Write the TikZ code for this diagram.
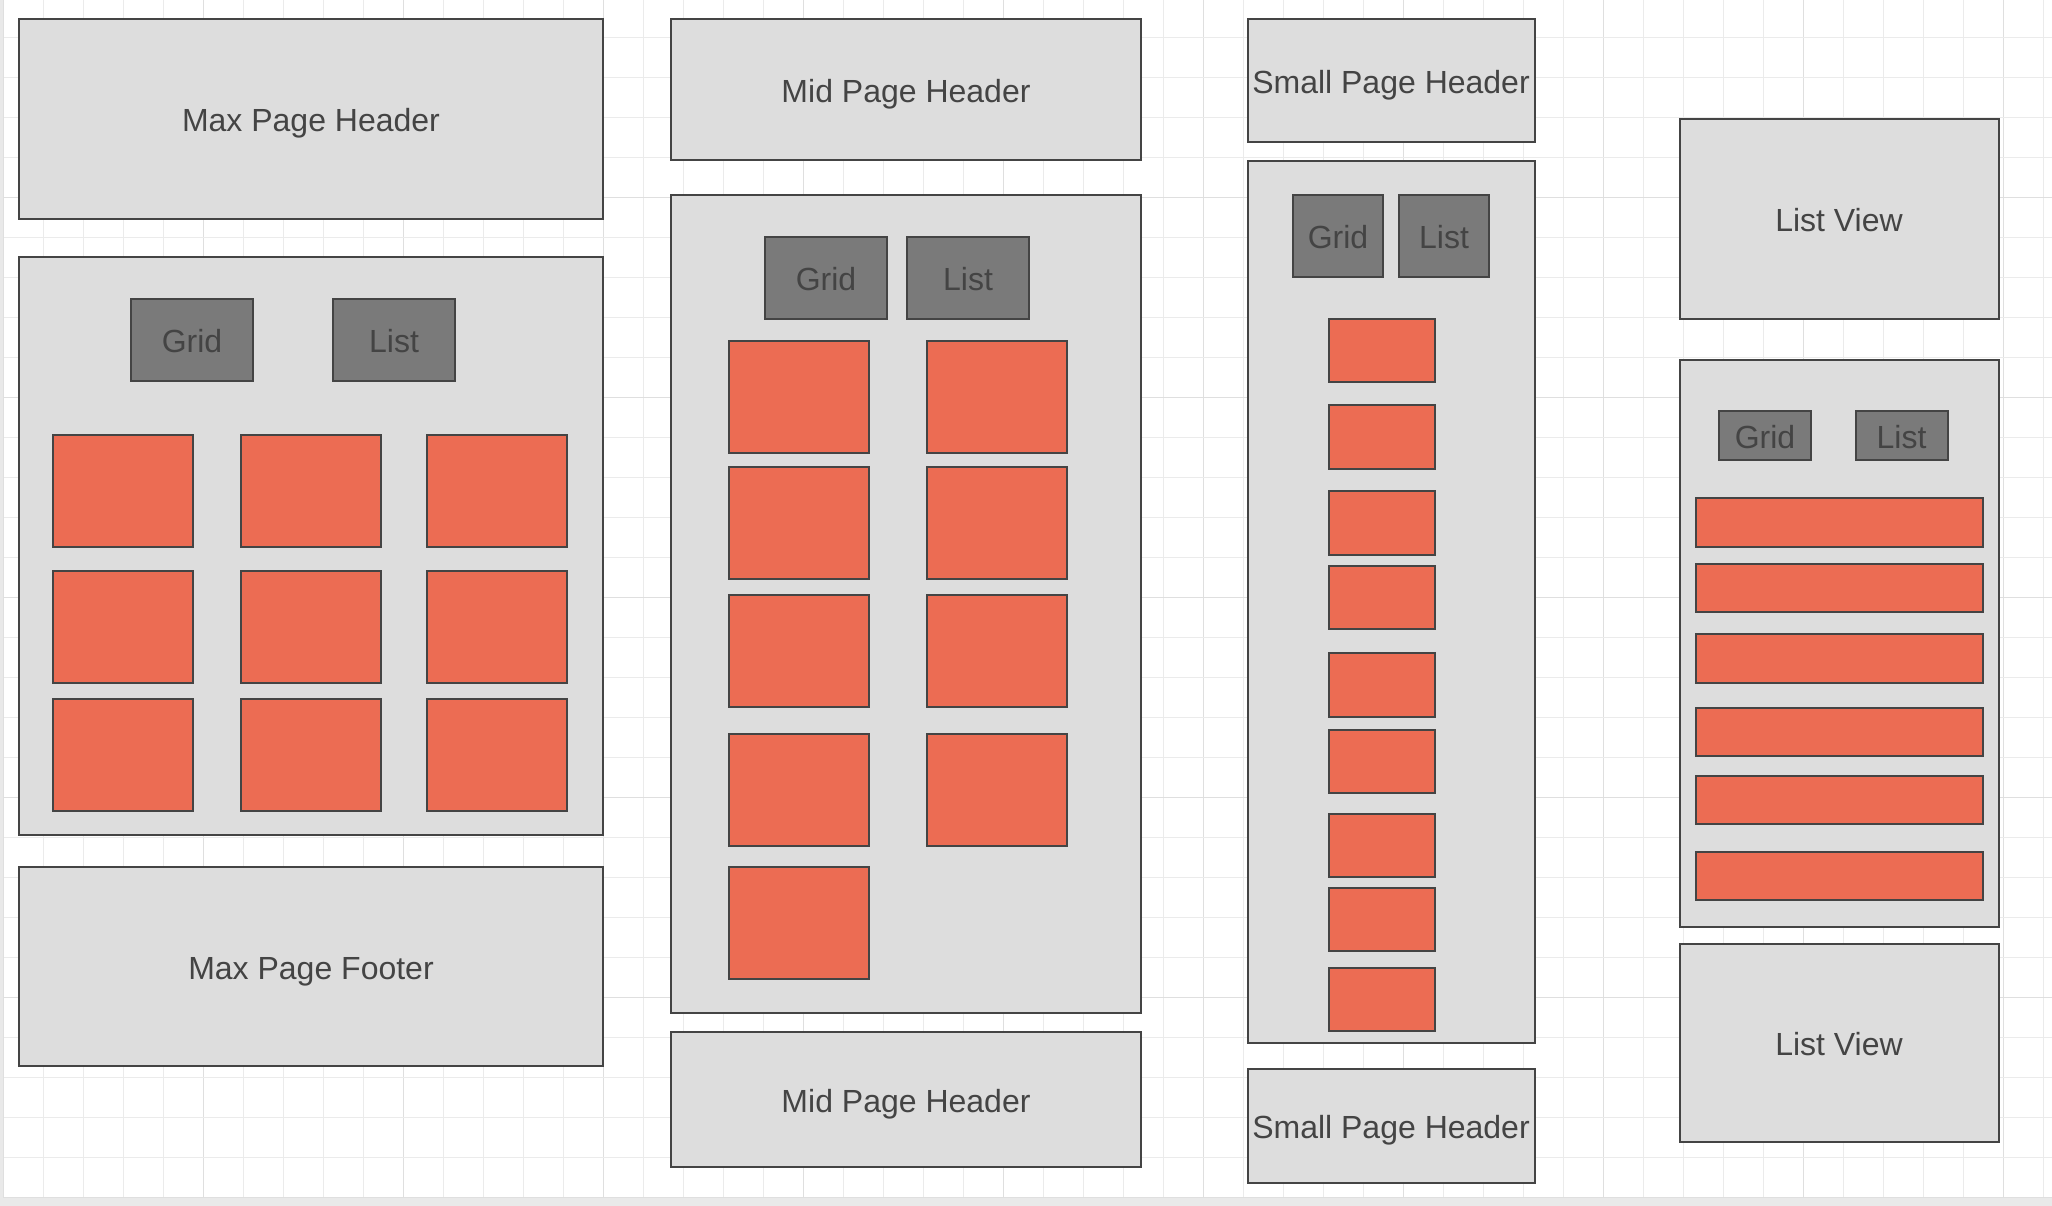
\documentclass[tikz,border=0pt]{standalone}
\usepackage{fontspec}
\setmainfont{Liberation Sans}

\definecolor{panelfill}{HTML}{DDDDDD}
\definecolor{edge}{HTML}{444444}
\definecolor{btnfill}{HTML}{7A7A7A}
\definecolor{tilefill}{HTML}{EC6C53}
\definecolor{labelc}{HTML}{444444}
\definecolor{gridminor}{HTML}{EBEBEB}
\definecolor{gridmajor}{HTML}{DFDFDF}
\definecolor{canvasedge}{HTML}{E9E9E9}

\tikzset{
  base/.style={draw=edge, line width=2pt, anchor=north west, inner sep=0pt,
    outer sep=0pt, font=\fontsize{32}{38}\selectfont, text=labelc,
    text height=28pt, text depth=2.4pt},
  panel/.style={base, fill=panelfill},
  btn/.style={base, fill=btnfill},
  tile/.style={base, fill=tilefill},
  minorline/.style={draw=gridminor, line width=1pt},
  majorline/.style={draw=gridmajor, line width=1.2pt},
}

\begin{document}
\begin{tikzpicture}[x=1pt, y=-1pt]
\useasboundingbox (0,0) rectangle (2052,1206);

% canvas and background grid
\fill[canvasedge] (0,0) rectangle (2052,1206);
\fill[white] (3.75,0) rectangle (2052,1197.7);
\foreach \i in {0,...,51} {
  \pgfmathtruncatemacro{\m}{mod(\i,5)}
  \ifnum\m=0
    \draw[majorline] (3.75+40*\i,0) -- (3.75+40*\i,1197.7);
  \else
    \draw[minorline] (3.75+40*\i,0) -- (3.75+40*\i,1197.7);
  \fi
}
\foreach \j in {1,...,30} {
  \pgfmathtruncatemacro{\m}{mod(\j,5)}
  \ifnum\m=0
    \draw[majorline] (3.75,-2.3+40*\j) -- (2052,-2.3+40*\j);
  \else
    \draw[minorline] (3.75,-2.3+40*\j) -- (2052,-2.3+40*\j);
  \fi
}

% ---- large layout ----
\node[panel, minimum width=584pt, minimum height=200pt] (maxhead) at (19,19) {Max Page Header};
\node[panel, minimum width=584pt, minimum height=578pt] (maxbody) at (19,257) {};
\node[btn, minimum width=122pt, minimum height=82pt] (maxgrid) at (131,299) {Grid};
\node[btn, minimum width=122pt, minimum height=82pt] (maxlist) at (333,299) {List};
\foreach \r/\y in {1/435,2/571,3/699}
  \foreach \c/\x in {1/53,2/241,3/427}
    \node[tile, minimum width=140pt, minimum height=112pt] (maxtile-\r-\c) at (\x,\y) {};
\node[panel, minimum width=584pt, minimum height=199pt] (maxfoot) at (19,867) {Max Page Footer};

% ---- medium layout ----
\node[panel, minimum width=470pt, minimum height=141pt] (midhead) at (671,19.5) {Mid Page Header};
\node[panel, minimum width=470pt, minimum height=817pt] (midbody) at (671,195.5) {};
\node[btn, minimum width=122pt, minimum height=82pt] (midgrid) at (765,237) {Grid};
\node[btn, minimum width=122pt, minimum height=82pt] (midlist) at (907,237) {List};
\foreach \r/\y in {1/341,2/466.5,3/595,4/733.5}
  \foreach \c/\x in {1/729,2/927}
    \node[tile, minimum width=140pt, minimum height=112pt] (midtile-\r-\c) at (\x,\y) {};
\node[tile, minimum width=140pt, minimum height=112pt] (midtile-5-1) at (729,867) {};
\node[panel, minimum width=470pt, minimum height=135pt] (midfoot) at (671,1032) {Mid Page Header};

% ---- small layout ----
\node[panel, minimum width=287pt, minimum height=123pt] (smallhead) at (1247.5,19.5) {Small Page Header};
\node[panel, minimum width=287pt, minimum height=881pt] (smallbody) at (1247.5,161.5) {};
\node[btn, minimum width=90pt, minimum height=82pt] (smallgrid) at (1293,195) {Grid};
\node[btn, minimum width=90pt, minimum height=82pt] (smalllist) at (1399,195) {List};
\foreach \k/\y in {1/318.8,2/405,3/491.2,4/565.7,5/653.4,6/729.5,7/813.7,8/887.6,9/967.7}
  \node[tile, minimum width=106pt, minimum height=63.5pt] (smalltile-\k) at (1329,\y) {};
\node[panel, minimum width=287pt, minimum height=114pt] (smallfoot) at (1247.5,1068.5) {Small Page Header};

% ---- list layout ----
\node[panel, minimum width=319pt, minimum height=199.5pt] (lvhead) at (1679.5,119) {List View};
\node[panel, minimum width=319pt, minimum height=567pt] (lvbody) at (1679.5,359.5) {};
\node[btn, minimum width=92pt, minimum height=48.5pt] (lvgrid) at (1719,411.3) {Grid};
\node[btn, minimum width=92pt, minimum height=48.5pt] (lvlist) at (1855.5,411.3) {List};
\foreach \k/\y in {1/498.3,2/563.7,3/634.4,4/707.7,5/775.7,6/851.7}
  \node[tile, minimum width=287pt, minimum height=48.7pt] (lvbar-\k) at (1695.5,\y) {};
\node[panel, minimum width=319pt, minimum height=198pt] (lvfoot) at (1679.5,944) {List View};

\end{tikzpicture}
\end{document}
